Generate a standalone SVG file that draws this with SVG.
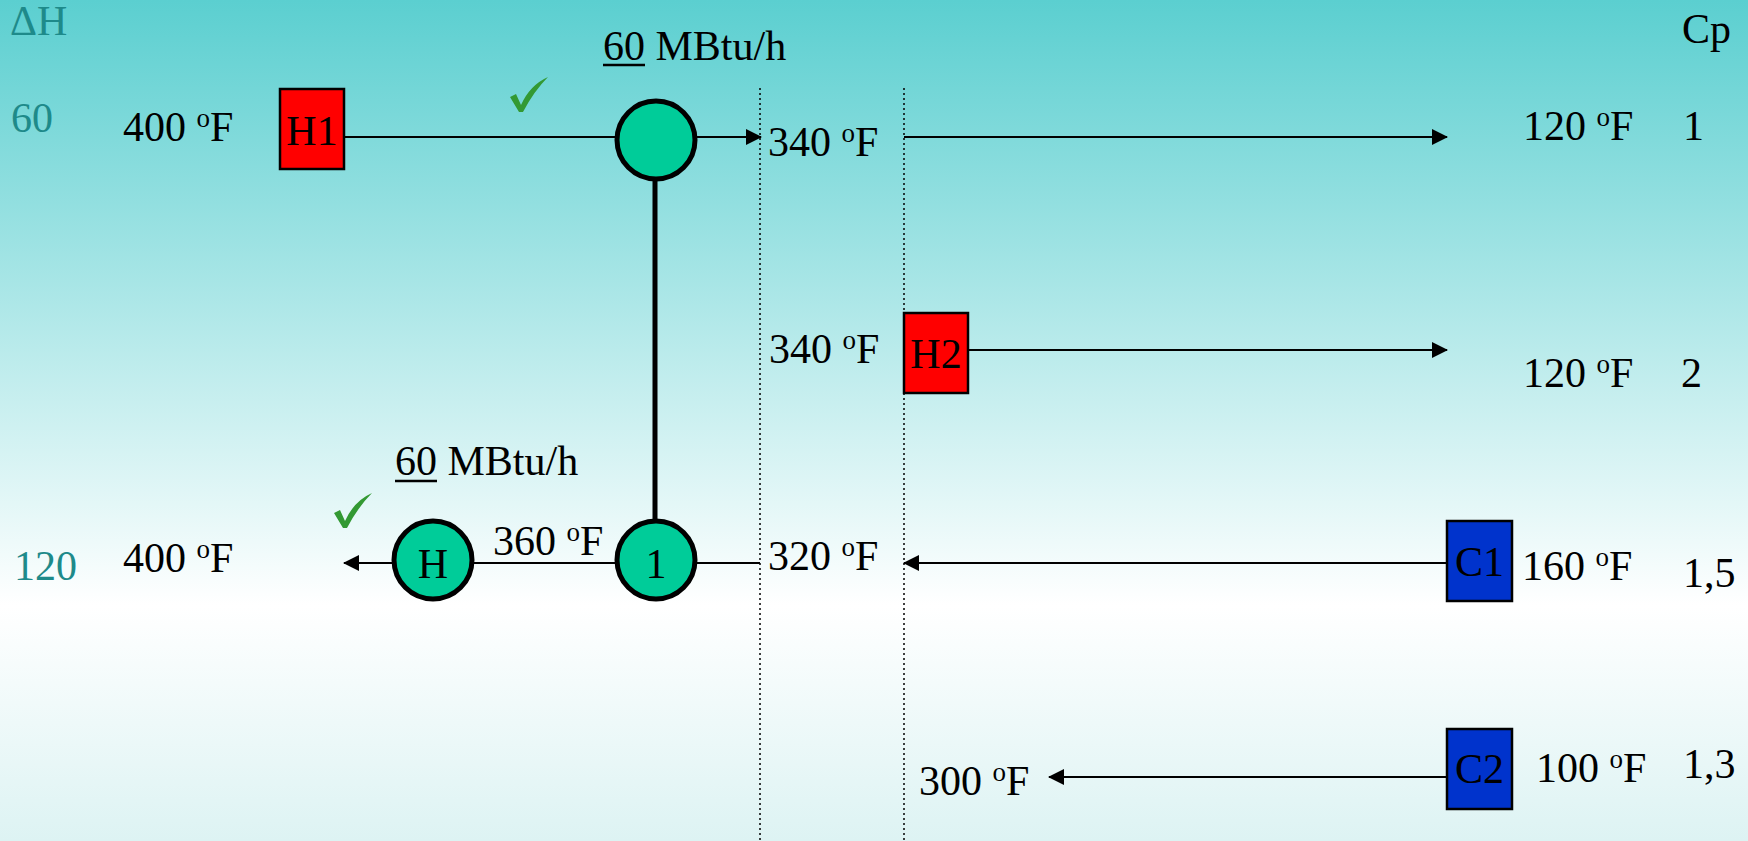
<svg xmlns="http://www.w3.org/2000/svg" width="1748" height="841" viewBox="0 0 1748 841">
<defs>
<linearGradient id="bg" x1="0" y1="0" x2="0" y2="1">
<stop offset="0" stop-color="#5BCFD0"/>
<stop offset="0.72" stop-color="#FFFFFF"/>
<stop offset="1" stop-color="#DDF3F3"/>
</linearGradient>
<marker id="arr" markerUnits="userSpaceOnUse" markerWidth="16" markerHeight="16" viewBox="0 0 16 16" refX="15" refY="8" orient="auto">
<path d="M0,0 L16,8 L0,16 Z" fill="#000"/>
</marker>
<path id="chk" d="M0,20 L6,17 L11,28 Q20,8 38,0 Q24,14 13,35 L9,35 Z" fill="#339933"/>
</defs>
<style>
text{font-family:"Liberation Serif","Times New Roman",serif;font-size:42px;fill:#000}
.teal{fill:#1E8A8A}
.lbl{text-anchor:middle}
.hx{fill:#FF0000;stroke:#000;stroke-width:2.5}
.cx{fill:#0033CC;stroke:#000;stroke-width:2.5}
.ex{fill:#00CC99;stroke:#000;stroke-width:5}
.ln{stroke:#000;stroke-width:2;fill:none}
.ul{stroke:#000;stroke-width:2.5;fill:none}
.dot{stroke:#000;stroke-width:1.5;stroke-dasharray:2,3;fill:none}
.sup{font-size:27px}
</style>
<rect width="1748" height="841" fill="url(#bg)"/>

<g id="axis-labels">
<text class="teal" x="10" y="35">ΔH</text>
<text class="teal" x="11" y="132">60</text>
<text class="teal" x="14" y="580">120</text>
<text x="1682" y="43">Cp</text>
<text x="1683" y="140">1</text>
<text x="1681" y="387">2</text>
<text x="1683" y="587">1,5</text>
<text x="1683" y="778">1,3</text>
</g>

<g id="pinch-lines">
<line class="dot" x1="760" y1="88" x2="760" y2="841"/>
<line class="dot" x1="904" y1="88" x2="904" y2="841"/>
</g>

<g id="connectors">
<line class="ln" x1="344" y1="137" x2="761" y2="137" marker-end="url(#arr)"/>
<line class="ln" x1="904" y1="137" x2="1447" y2="137" marker-end="url(#arr)"/>
<line class="ln" x1="968" y1="350" x2="1447" y2="350" marker-end="url(#arr)"/>
<line class="ln" x1="1447" y1="563" x2="904" y2="563" marker-end="url(#arr)"/>
<line class="ln" x1="1447" y1="777" x2="1049" y2="777" marker-end="url(#arr)"/>
<line class="ln" x1="760" y1="563" x2="344" y2="563" marker-end="url(#arr)"/>
<line stroke="#000" stroke-width="5" x1="655" y1="178" x2="655" y2="522"/>
</g>

<g id="temps">
<text x="123" y="141">400 <tspan class="sup" dy="-14">o</tspan><tspan dy="14">F</tspan></text>
<text x="768" y="156">340 <tspan class="sup" dy="-14">o</tspan><tspan dy="14">F</tspan></text>
<text x="1523" y="140">120 <tspan class="sup" dy="-14">o</tspan><tspan dy="14">F</tspan></text>
<text x="769" y="363">340 <tspan class="sup" dy="-14">o</tspan><tspan dy="14">F</tspan></text>
<text x="1523" y="387">120 <tspan class="sup" dy="-14">o</tspan><tspan dy="14">F</tspan></text>
<text x="123" y="572">400 <tspan class="sup" dy="-14">o</tspan><tspan dy="14">F</tspan></text>
<text x="493" y="555">360 <tspan class="sup" dy="-14">o</tspan><tspan dy="14">F</tspan></text>
<text x="768" y="570">320 <tspan class="sup" dy="-14">o</tspan><tspan dy="14">F</tspan></text>
<text x="1522" y="580">160 <tspan class="sup" dy="-14">o</tspan><tspan dy="14">F</tspan></text>
<text x="1536" y="782">100 <tspan class="sup" dy="-14">o</tspan><tspan dy="14">F</tspan></text>
<text x="919" y="795">300 <tspan class="sup" dy="-14">o</tspan><tspan dy="14">F</tspan></text>
</g>

<g id="duties">
<text x="603" y="60">60 MBtu/h</text>
<line class="ul" x1="603" y1="65" x2="645" y2="65"/>
<text x="395" y="475">60 MBtu/h</text>
<line class="ul" x1="395" y1="481" x2="437" y2="481"/>
<use href="#chk" x="510" y="77"/>
<use href="#chk" x="334" y="493"/>
</g>

<g id="H1">
<rect class="hx" x="280" y="89" width="64" height="80"/>
<text class="lbl" x="312" y="145">H1</text>
</g>
<g id="H2">
<rect class="hx" x="904" y="313" width="64" height="80"/>
<text class="lbl" x="936" y="368">H2</text>
</g>
<g id="C1">
<rect class="cx" x="1447" y="521" width="65" height="80"/>
<text class="lbl" x="1479.5" y="576">C1</text>
</g>
<g id="C2">
<rect class="cx" x="1447" y="729" width="65" height="80"/>
<text class="lbl" x="1479.5" y="783">C2</text>
</g>
<g id="exchanger-1-top">
<circle class="ex" cx="656" cy="140" r="39"/>
</g>
<g id="exchanger-1">
<circle class="ex" cx="656" cy="560" r="39"/>
<text class="lbl" x="656" y="578">1</text>
</g>
<g id="heater-H">
<circle class="ex" cx="433" cy="560" r="39"/>
<text class="lbl" x="433" y="578">H</text>
</g>
</svg>
